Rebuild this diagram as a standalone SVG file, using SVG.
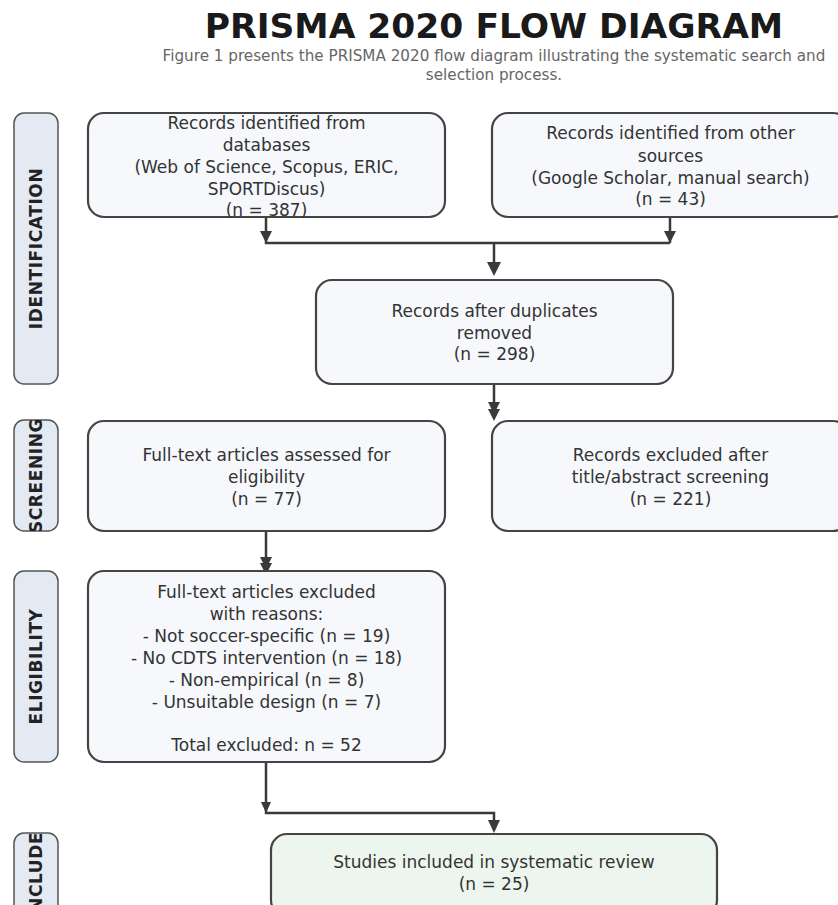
<svg xmlns="http://www.w3.org/2000/svg" width="838" height="905" viewBox="0 0 838 905">
<style>
.title{font-family:"DejaVu Sans",sans-serif;font-weight:bold;font-size:34.5px;fill:#1a1a1a;text-anchor:middle}
.sub{font-family:"DejaVu Sans",sans-serif;font-size:15.2px;fill:#666;text-anchor:middle}
.side{fill:#e3eaf3;stroke:#555;stroke-width:1.5}
.sidet{font-family:"DejaVu Sans",sans-serif;font-weight:bold;font-size:17px;letter-spacing:0.6px;fill:#222;text-anchor:middle}
.box{fill:#f6f8fc;stroke:#444;stroke-width:2.2}
.inc{fill:#edf6ee;stroke:#444;stroke-width:2.2}
.bt{font-family:"DejaVu Sans",sans-serif;font-size:17px;fill:#333;text-anchor:middle}
.ln{fill:none;stroke:#3a3a3a;stroke-width:2.5}
.ah{fill:#3a3a3a}
</style>
<defs>
<clipPath id="c1"><rect x="14" y="113" width="44" height="271" rx="10"/></clipPath>
<clipPath id="c2"><rect x="14" y="420" width="44" height="111" rx="10"/></clipPath>
<clipPath id="c3"><rect x="14" y="571" width="44" height="191" rx="10"/></clipPath>
<clipPath id="c4"><rect x="14" y="834" width="44" height="82" rx="10"/></clipPath>
</defs>
<rect width="838" height="905" fill="#fff"/>
<g id="title">
<text class="title" x="494" y="38">PRISMA 2020 FLOW DIAGRAM</text>
<text class="sub" x="494" y="61">Figure 1 presents the PRISMA 2020 flow diagram illustrating the systematic search and</text>
<text class="sub" x="494" y="80">selection process.</text>
</g>
<g id="stage-identification">
<rect class="side" x="14" y="113" width="44" height="271" rx="10"/>
<g clip-path="url(#c1)"><text class="sidet" transform="translate(36,248.5) rotate(-90)" dy="0.36em">IDENTIFICATION</text></g>
</g>
<g id="stage-screening">
<rect class="side" x="14" y="420" width="44" height="111" rx="10"/>
<g clip-path="url(#c2)"><text class="sidet" transform="translate(36,475.5) rotate(-90)" dy="0.36em">SCREENING</text></g>
</g>
<g id="stage-eligibility">
<rect class="side" x="14" y="571" width="44" height="191" rx="10"/>
<g clip-path="url(#c3)"><text class="sidet" transform="translate(36,666.5) rotate(-90)" dy="0.36em">ELIGIBILITY</text></g>
</g>
<g id="stage-included">
<rect class="side" x="14" y="833" width="44" height="82" rx="10"/>
<g clip-path="url(#c4)"><text class="sidet" transform="translate(36,868) rotate(-90)" dy="0.36em">INCLUDED</text></g>
</g>
<g id="connectors">
<polyline class="ln" points="266,217 266,243 670,243"/>
<polygon class="ah" points="260,231 272,231 266,243"/>
<polyline class="ln" points="670,217 670,243"/>
<polygon class="ah" points="664,231 676,231 670,243"/>
<polyline class="ln" points="494,243 494,270"/>
<polygon class="ah" points="487,262 501,262 494,276"/>
<polyline class="ln" points="494,384 494,416"/>
<polygon class="ah" points="488,402 500,402 494,414"/>
<polygon class="ah" points="488,409 500,409 494,421"/>
<polyline class="ln" points="266,531 266,566"/>
<polygon class="ah" points="260,557 272,557 266,569"/>
<polygon class="ah" points="260,563 272,563 266,575"/>
<polyline class="ln" points="266,762 266,813 494,813 494,826"/>
<polygon class="ah" points="261,802 271,802 266,813"/>
<polygon class="ah" points="488,820 500,820 494,833"/>
</g>
<g id="n-databases">
<rect class="box" x="88" y="113" width="357" height="104" rx="16"/>
<text class="bt" x="266.5" y="129">Records identified from</text>
<text class="bt" x="266.5" y="151">databases</text>
<text class="bt" x="266.5" y="173">(Web of Science, Scopus, ERIC,</text>
<text class="bt" x="266.5" y="195">SPORTDiscus)</text>
<text class="bt" x="266.5" y="216">(n = 387)</text>
</g>
<g id="n-other">
<rect class="box" x="492" y="113" width="357" height="104" rx="16"/>
<text class="bt" x="670.5" y="139">Records identified from other</text>
<text class="bt" x="670.5" y="162">sources</text>
<text class="bt" x="670.5" y="184">(Google Scholar, manual search)</text>
<text class="bt" x="670.5" y="205">(n = 43)</text>
</g>
<g id="n-dedup">
<rect class="box" x="316" y="280" width="357" height="104" rx="16"/>
<text class="bt" x="494.5" y="317">Records after duplicates</text>
<text class="bt" x="494.5" y="339">removed</text>
<text class="bt" x="494.5" y="360">(n = 298)</text>
</g>
<g id="n-fulltext">
<rect class="box" x="88" y="421" width="357" height="110" rx="16"/>
<text class="bt" x="266.5" y="461">Full-text articles assessed for</text>
<text class="bt" x="266.5" y="483">eligibility</text>
<text class="bt" x="266.5" y="505">(n = 77)</text>
</g>
<g id="n-excluded-screening">
<rect class="box" x="492" y="421" width="357" height="110" rx="16"/>
<text class="bt" x="670.5" y="461">Records excluded after</text>
<text class="bt" x="670.5" y="483">title/abstract screening</text>
<text class="bt" x="670.5" y="505">(n = 221)</text>
</g>
<g id="n-excluded-fulltext">
<rect class="box" x="88" y="571" width="357" height="191" rx="16"/>
<text class="bt" x="266.5" y="598">Full-text articles excluded</text>
<text class="bt" x="266.5" y="620">with reasons:</text>
<text class="bt" x="266.5" y="642">- Not soccer-specific (n = 19)</text>
<text class="bt" x="266.5" y="664">- No CDTS intervention (n = 18)</text>
<text class="bt" x="266.5" y="686">- Non-empirical (n = 8)</text>
<text class="bt" x="266.5" y="708">- Unsuitable design (n = 7)</text>
<text class="bt" x="266.5" y="751">Total excluded: n = 52</text>
</g>
<g id="n-included">
<rect class="inc" x="271" y="834" width="446" height="82" rx="16"/>
<text class="bt" x="494" y="868">Studies included in systematic review</text>
<text class="bt" x="494" y="890">(n = 25)</text>
</g>
</svg>
